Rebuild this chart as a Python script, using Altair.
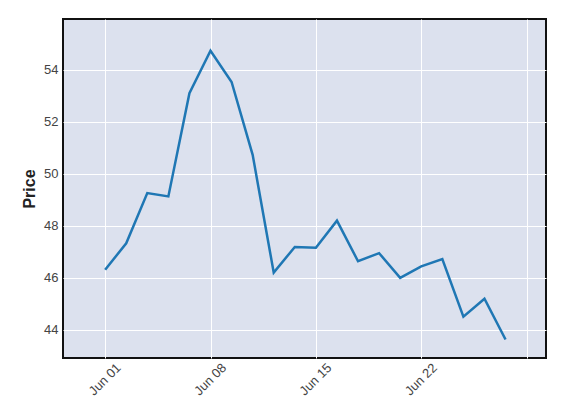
import altair as alt
import pandas as pd

dates = ["2020-06-01", "2020-06-02", "2020-06-03", "2020-06-04", "2020-06-05",
         "2020-06-08", "2020-06-09", "2020-06-10", "2020-06-11", "2020-06-12",
         "2020-06-15", "2020-06-16", "2020-06-17", "2020-06-18", "2020-06-19",
         "2020-06-22", "2020-06-23", "2020-06-24", "2020-06-25", "2020-06-26"]
prices = [46.31, 47.33, 49.26, 49.13, 53.10,
          54.73, 53.53, 50.73, 46.20, 47.19,
          47.16, 48.20, 46.64, 46.95, 46.00,
          46.44, 46.72, 44.51, 45.20, 43.63]
tick_labels = ["Jun 01", "Jun 08", "Jun 15", "Jun 22", ""]
tick_positions = [0, 5, 10, 15, 20]

df = pd.DataFrame({"date": dates, "price": prices, "idx": list(range(len(dates)))})

label_expr = "[" + ",".join("'" + t + "'" for t in tick_labels) + "][datum.value / 5]"

chart = alt.Chart(df).mark_line(color="#1f77b4", strokeWidth=2.5, clip=True).encode(
    x=alt.X("idx:Q",
            scale=alt.Scale(domain=[-2, 20.92], nice=False, zero=False),
            axis=alt.Axis(values=tick_positions, labelExpr=label_expr, title=None,
                          labelAngle=-45, labelFontSize=13, labelColor="#444444",
                          labelFont="Liberation Sans", ticks=False, domain=False,
                          labelPadding=3, labelOffset=9,
                          grid=True, gridColor="white", gridWidth=1)),
    y=alt.Y("price:Q",
            scale=alt.Scale(domain=[42.92, 55.95], nice=False, zero=False),
            axis=alt.Axis(values=[44, 46, 48, 50, 52, 54], title="Price",
                          titleFontSize=16, titleFontWeight="bold", titleColor="#222222",
                          titleFont="Liberation Sans", titlePadding=6,
                          labelFontSize=13, labelColor="#444444", labelFont="Liberation Sans",
                          ticks=False, domain=False, labelPadding=5,
                          grid=True, gridColor="white", gridWidth=1)),
).properties(
    width=483, height=339,
    autosize=alt.AutoSizeParams(type="none"),
    padding={"left": 55, "top": 11, "right": 8, "bottom": 44},
).configure_view(
    fill="#dce1ee", stroke="#111111", strokeWidth=2
)

chart.save("out.html", embed_options={"renderer": "svg", "actions": False})
